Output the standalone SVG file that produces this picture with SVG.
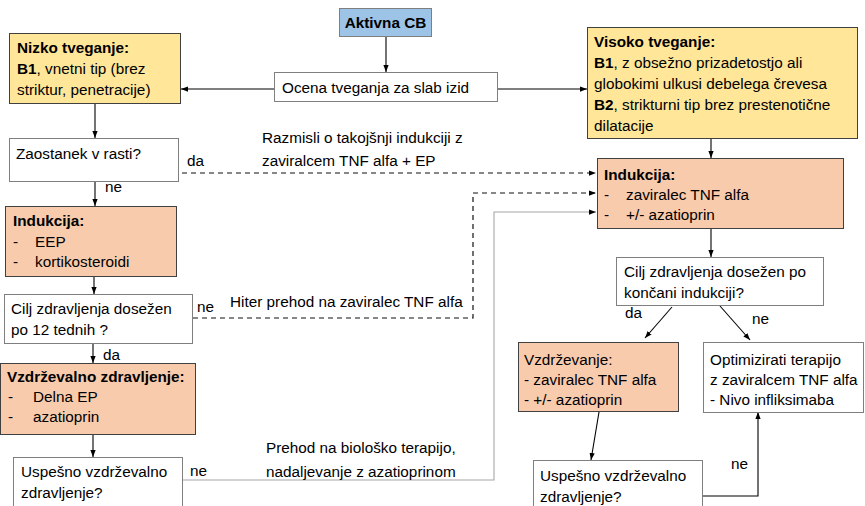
<svg xmlns="http://www.w3.org/2000/svg" width="865" height="506" viewBox="0 0 865 506">
<defs>
<marker id="ah" viewBox="0 0 8 6" refX="8" refY="3" markerWidth="7" markerHeight="5.5" markerUnits="userSpaceOnUse" orient="auto">
<path d="M0,0 L8,3 L0,6 z" fill="#000"/>
</marker>
</defs>
<style>
text{font-family:"Liberation Sans",Arial,sans-serif;font-size:15.3px;fill:#000}
.b{font-weight:bold}
.bx{stroke:#7f7f7f;stroke-width:1;fill:#fff}
.yl{fill:#FFE699;stroke:#404040;stroke-width:1}
.or{fill:#F8CBAD;stroke:#404040;stroke-width:1}
.bl{fill:#9DC3E6;stroke:#7f7f7f;stroke-width:1}
.c{fill:none;stroke:#000;stroke-width:1.1;marker-end:url(#ah)}
.d{fill:none;stroke:#111;stroke-width:1.2;stroke-dasharray:5,4;marker-end:url(#ah)}
.g{fill:none;stroke:#a6a6a6;stroke-width:1.1;marker-end:url(#ah)}
</style>
<rect width="865" height="506" fill="#fff"/>
<g id="connectors">
<path class="c" d="M386,36 V72"/>
<path class="c" d="M274,89 H181"/>
<path class="c" d="M497,89 H587"/>
<path class="c" d="M95,103 V138"/>
<path class="c" d="M95,181 V206"/>
<path class="d" d="M182,173 H596"/>
<path class="c" d="M94,276 V294"/>
<path class="d" d="M193,318 H473 V193 H596"/>
<path class="c" d="M93,343 V363"/>
<path class="c" d="M93,434 V457"/>
<path class="g" d="M183,480 H494 V212 H596"/>
<path class="c" d="M711,138 V158"/>
<path class="c" d="M711,228 V257"/>
<path class="c" d="M672,307 L645,338"/>
<path class="c" d="M720,306 L750,340"/>
<path class="c" d="M599,412 L591,460"/>
<path class="c" d="M702,496 H758 V412"/>
</g>
<g id="labels">
<text x="187" y="166">da</text>
<text x="262" y="143">Razmisli o takojšnji indukciji z</text>
<text x="262" y="166">zaviralcem TNF alfa + EP</text>
<text x="105" y="192">ne</text>
<text x="197" y="312">ne</text>
<text x="230" y="307">Hiter prehod na zaviralec TNF alfa</text>
<text x="103" y="360">da</text>
<text x="190" y="476">ne</text>
<text x="266" y="453">Prehod na biološko terapijo,</text>
<text x="266" y="477">nadaljevanje z azatioprinom</text>
<text x="625" y="318">da</text>
<text x="752" y="324">ne</text>
<text x="731" y="469">ne</text>
</g>
<g id="aktivna">
<rect class="bl" x="339.5" y="8.5" width="92" height="28"/>
<text class="b" x="385.5" y="28" text-anchor="middle">Aktivna CB</text>
</g>
<g id="ocena">
<rect class="bx" x="274.5" y="72.5" width="223" height="29"/>
<text x="282" y="93">Ocena tveganja za slab izid</text>
</g>
<g id="nizko">
<rect class="yl" x="9.5" y="33.5" width="171" height="70"/>
<text x="17" y="53"><tspan class="b">Nizko tveganje:</tspan></text>
<text x="17" y="74"><tspan class="b">B1</tspan>, vnetni tip (brez</text>
<text x="17" y="95">striktur, penetracije)</text>
</g>
<g id="zaostanek">
<rect class="bx" x="9.5" y="138.5" width="169" height="43"/>
<text x="16" y="159">Zaostanek v rasti?</text>
</g>
<g id="indukcija-l">
<rect class="or" x="5.5" y="206.5" width="171" height="70"/>
<text class="b" x="13" y="226">Indukcija:</text>
<text x="13" y="247">-</text><text x="35" y="247">EEP</text>
<text x="13" y="267">-</text><text x="35" y="267">kortikosteroidi</text>
</g>
<g id="cilj-l">
<rect class="bx" x="4.5" y="294.5" width="188" height="49"/>
<text x="11" y="314">Cilj zdravljenja dosežen</text>
<text x="11" y="335">po 12 tednih ?</text>
</g>
<g id="vzdrz-l">
<rect class="or" x="0.5" y="363.5" width="195" height="71"/>
<text class="b" x="7" y="382">Vzdrževalno zdravljenje:</text>
<text x="8" y="402">-</text><text x="33" y="402">Delna EP</text>
<text x="8" y="422">-</text><text x="33" y="422">azatioprin</text>
</g>
<g id="uspesno-l">
<rect class="bx" x="13.5" y="457.5" width="169" height="52"/>
<text x="21" y="477">Uspešno vzdrževalno</text>
<text x="21" y="498">zdravljenje?</text>
</g>
<g id="visoko">
<rect class="yl" x="587.5" y="27.5" width="270" height="111"/>
<text class="b" x="594" y="47">Visoko tveganje:</text>
<text x="594" y="68"><tspan class="b">B1</tspan>, z obsežno prizadetostjo ali</text>
<text x="594" y="89">globokimi ulkusi debelega črevesa</text>
<text x="594" y="110"><tspan class="b">B2</tspan>, strikturni tip brez prestenotične</text>
<text x="594" y="131">dilatacije</text>
</g>
<g id="indukcija-r">
<rect class="or" x="597.5" y="158.5" width="246" height="70"/>
<text class="b" x="604" y="180">Indukcija:</text>
<text x="604" y="200">-</text><text x="626" y="200">zaviralec TNF alfa</text>
<text x="604" y="220">-</text><text x="626" y="220">+/- azatioprin</text>
</g>
<g id="cilj-r">
<rect class="bx" x="616.5" y="257.5" width="207" height="48"/>
<text x="624" y="277">Cilj zdravljenja dosežen po</text>
<text x="624" y="298">končani indukciji?</text>
</g>
<g id="vzdrz-r">
<rect class="or" x="518.5" y="342.5" width="160" height="69"/>
<text x="524" y="365">Vzdrževanje:</text>
<text x="524" y="385">- zaviralec TNF alfa</text>
<text x="524" y="405">- +/- azatioprin</text>
</g>
<g id="optimizirati">
<rect class="bx" x="703.5" y="342.5" width="160" height="70"/>
<text x="710" y="365">Optimizirati terapijo</text>
<text x="710" y="385">z zaviralcem TNF alfa</text>
<text x="710" y="405">- Nivo infliksimaba</text>
</g>
<g id="uspesno-r">
<rect class="bx" x="533.5" y="460.5" width="169" height="52"/>
<text x="540" y="481">Uspešno vzdrževalno</text>
<text x="540" y="502">zdravljenje?</text>
</g>
</svg>
